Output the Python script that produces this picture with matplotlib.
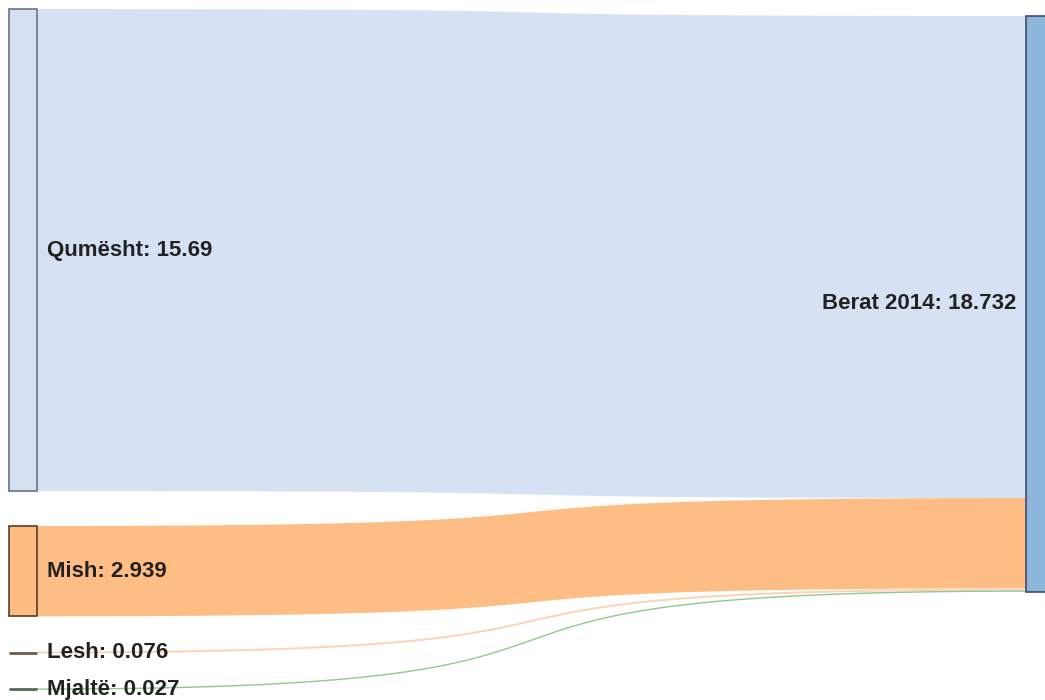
import matplotlib
matplotlib.use("Agg")
import matplotlib.pyplot as plt
import numpy as np
from matplotlib.patches import Rectangle, Polygon

# ---- data ----
sources = ["Qumësht", "Mish", "Lesh", "Mjaltë"]
values = [15.69, 2.939, 0.076, 0.027]
target = "Berat 2014"
target_value = 18.732

# ---- styles ----
node_fill = ["#d5e1f3", "#fdbc82", "#fdbc82", "#9fd09f"]
node_edge = ["#6a7685", "#5a3d28", "#6b5b4b", "#4f6b5a"]
link_color = ["#d6e2f4", "#fdbd84", "#fcd3b6", "#8fca8f"]
target_fill = "#8db6dc"
target_edge = "#3d4f66"

W, H = 1045, 700
fig = plt.figure(figsize=(W / 100, H / 100), dpi=100)
ax = fig.add_axes([0, 0, 1, 1])
ax.set_xlim(0, W)
ax.set_ylim(H, 0)
ax.axis("off")

# layout
left_x0, left_x1 = 9, 37
right_x0, right_x1 = 1026, 1054
top_left = 9.0
bottom_left = 689.5
gap = 35.0
ky = (bottom_left - top_left - gap * (len(values) - 1)) / sum(values)
right_top = 16.0
curv = 0.72

# left nodes
node_pos = []
y = top_left
for v in values:
    h = v * ky
    node_pos.append((y, y + h))
    y += h + gap

# right node
r_h = target_value * ky
r_y0, r_y1 = right_top, right_top + r_h


def bez(x0, x1, y0, y1, n=300):
    t = np.linspace(0, 1, n)
    L = x1 - x0
    xa = x0 + curv * L
    xb = x1 - curv * L
    xs = (1 - t) ** 3 * x0 + 3 * (1 - t) ** 2 * t * xa + 3 * (1 - t) * t ** 2 * xb + t ** 3 * x1
    ys = (1 - t) ** 3 * y0 + 3 * (1 - t) ** 2 * t * y0 + 3 * (1 - t) * t ** 2 * y1 + t ** 3 * y1
    return xs, ys


# links
ty = r_y0
for i, v in enumerate(values):
    sy0, sy1 = node_pos[i]
    h = v * ky
    ty0, ty1 = ty, ty + h
    ty += h
    xt, yt = bez(left_x1, right_x0, sy0, ty0)
    xb, yb = bez(left_x1, right_x0, sy1, ty1)
    if h > 3:
        poly = np.vstack([np.column_stack([xt, yt]), np.column_stack([xb[::-1], yb[::-1]])])
        ax.add_patch(Polygon(poly, closed=True, facecolor=link_color[i], edgecolor="none", zorder=1))
    else:
        xc, yc = bez(left_x1, right_x0, (sy0 + sy1) / 2, (ty0 + ty1) / 2)
        ax.plot(xc, yc, color=link_color[i], lw=max(h * 0.6, 1.0), solid_capstyle="butt", zorder=1)

# left nodes draw
for i, (y0, y1) in enumerate(node_pos):
    h = y1 - y0
    if h > 3:
        ax.add_patch(Rectangle((left_x0, y0), left_x1 - left_x0, h, facecolor=node_fill[i],
                               edgecolor=node_edge[i], lw=1.2, zorder=3))
    else:
        ax.plot([left_x0, left_x1], [(y0 + y1) / 2] * 2, color=node_edge[i], lw=2.0, zorder=3,
                solid_capstyle="butt")
    ax.text(left_x1 + 10, (y0 + y1) / 2, f"{sources[i]}: {values[i]:g}", ha="left", va="center",
            fontsize=16, fontweight="bold", family="Liberation Sans", color="#222222", zorder=4)

# right node
ax.add_patch(Rectangle((right_x0, r_y0), right_x1 - right_x0, r_h, facecolor=target_fill,
                       edgecolor=target_edge, lw=1.2, zorder=3))
ax.text(right_x0 - 10, (r_y0 + r_y1) / 2, f"{target}: {target_value:g}", ha="right", va="center",
        fontsize=16, fontweight="bold", family="Liberation Sans", color="#222222", zorder=4)

fig.savefig("out.png", dpi=100)
